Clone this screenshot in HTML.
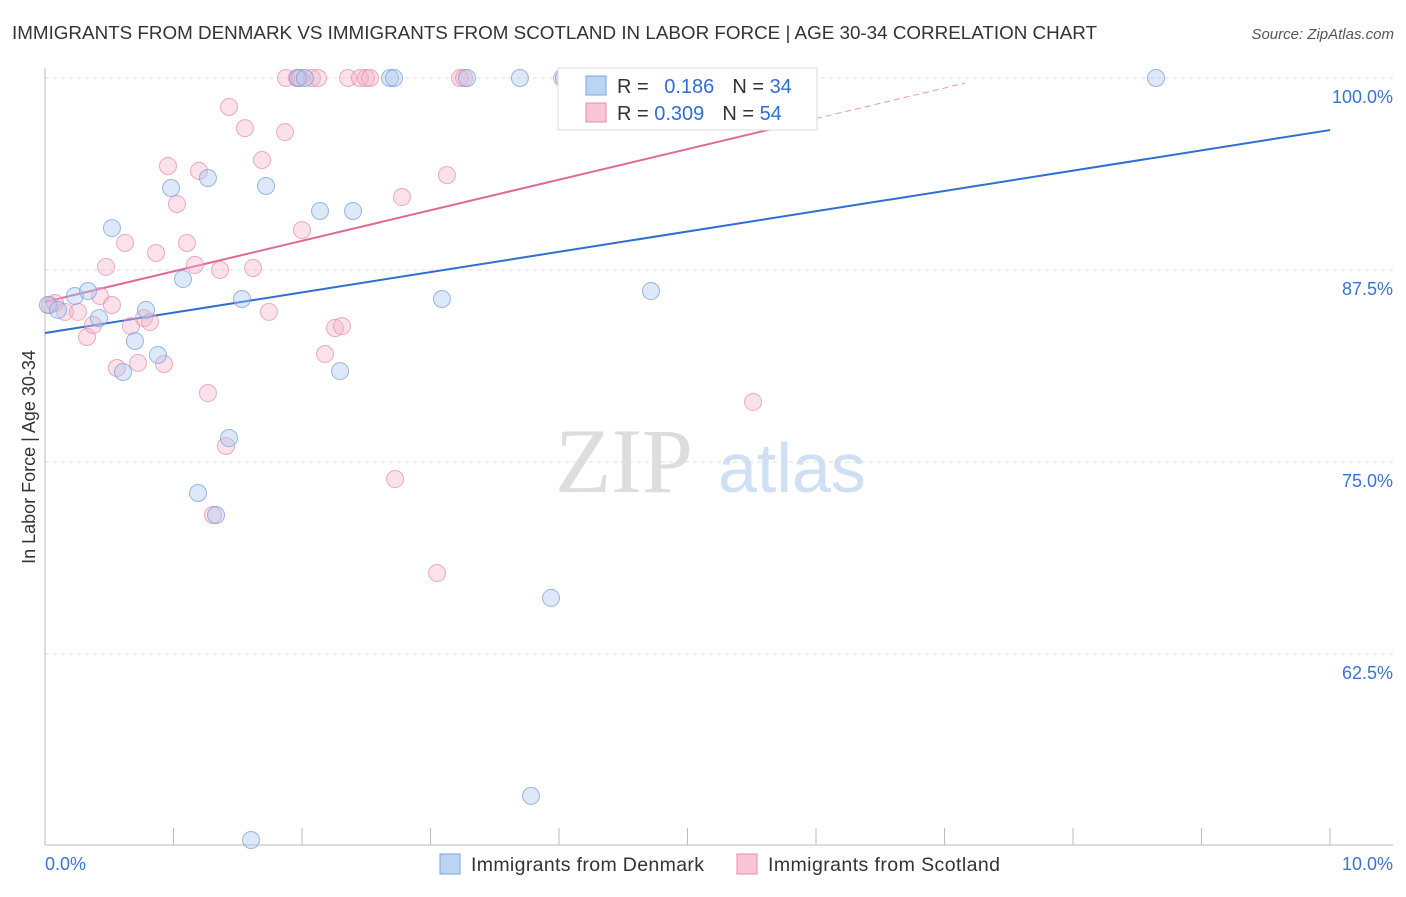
<!DOCTYPE html>
<html><head><meta charset="utf-8"><style>
body{margin:0;background:#fff;font-family:"Liberation Sans",sans-serif}
</style></head><body>
<svg id="c" width="1406" height="892" xmlns="http://www.w3.org/2000/svg">
<text x="12" y="39" font-size="18.5" fill="#333" textLength="1085" lengthAdjust="spacingAndGlyphs">IMMIGRANTS FROM DENMARK VS IMMIGRANTS FROM SCOTLAND IN LABOR FORCE | AGE 30-34 CORRELATION CHART</text>
<text x="1394" y="39" font-size="15" fill="#555" font-style="italic" text-anchor="end">Source: ZipAtlas.com</text>
<text x="35" y="457" font-size="18" fill="#333" text-anchor="middle" transform="rotate(-90 35 457)">In Labor Force | Age 30-34</text>
<text x="555" y="492" font-size="92" fill="#ddd" font-family="Liberation Serif,serif">ZIP</text>
<text x="718" y="492" font-size="70" fill="#cfe0f5">atlas</text>
<g id="grid"></g><g id="axes"></g><g id="lines"></g><g id="pts"></g>
<g>
<rect x="558" y="68" width="259" height="62" fill="#fff" stroke="#ddd"/>
<rect x="586" y="76" width="20" height="19" fill="#bcd4f4" stroke="#7aa5e0"/>
<text x="617" y="93" font-size="20" fill="#333">R = <tspan fill="#2f6fd0" dx="10">0.186</tspan><tspan dx="18" fill="#333">N = </tspan><tspan fill="#2f6fd0">34</tspan></text>
<rect x="586" y="103" width="20" height="19" fill="#f8c6d5" stroke="#e88aa8"/>
<text x="617" y="120" font-size="20" fill="#333">R = <tspan fill="#2f6fd0">0.309</tspan><tspan dx="18" fill="#333">N = </tspan><tspan fill="#2f6fd0">54</tspan></text>
</g>
<g>
<rect x="440" y="854" width="20" height="20" fill="#bcd4f4" stroke="#7aa5e0"/>
<text x="471" y="871" font-size="19.5" fill="#333" textLength="233">Immigrants from Denmark</text>
<rect x="737" y="854" width="20" height="20" fill="#f8c6d5" stroke="#e88aa8"/>
<text x="768" y="871" font-size="19.5" fill="#333" textLength="232">Immigrants from Scotland</text>
</g>
</svg>
<script>
const blueX=[0.023,0.101,0.233,0.335,0.420,0.521,0.607,0.700,0.786,0.879,0.981,1.074,1.191,1.268,1.331,1.432,1.533,1.603,1.720,2.140,2.296,2.397,2.685,2.716,3.089,3.284,3.696,3.782,3.938,4.039,4.716,8.646,1.969,2.023];
const blueY=[85.22,84.90,85.81,86.13,84.37,90.23,80.86,82.88,84.90,81.97,92.84,86.91,72.98,93.49,71.55,76.56,85.61,50.39,92.97,91.34,80.92,91.34,100,100,85.61,100,100,53.26,66.15,100,86.13,100,100,100];
const pinkX=[0.039,0.078,0.156,0.257,0.327,0.374,0.428,0.475,0.521,0.560,0.623,0.669,0.724,0.770,0.817,0.864,0.926,0.957,1.027,1.105,1.167,1.198,1.268,1.307,1.362,1.409,1.432,1.556,1.619,1.689,1.743,1.868,1.875,1.961,2.000,2.078,2.125,2.179,2.257,2.311,2.358,2.451,2.498,2.724,2.778,3.051,3.128,3.230,3.261,4.023,4.840,5.510,1.984,2.529];
const pinkY=[85.22,85.35,84.77,84.77,83.14,83.92,85.81,87.70,85.22,81.12,89.26,83.85,81.45,84.37,84.11,88.61,81.38,94.27,91.80,89.26,87.83,93.95,79.49,71.55,87.5,76.04,98.11,96.74,87.63,94.66,84.77,96.48,100,100,90.10,100,100,82.03,83.72,83.85,100,100,100,73.89,92.25,67.77,93.68,100,100,100,100,78.91,100,100];
const blueTrend=[83.40,96.61];
const pinkTrend=[85.42,1.99];
const yTicks=[100,87.5,75,62.5];
const yTickLabels=["100.0%","87.5%","75.0%","62.5%"];
const xTicks=[0,1,2,3,4,5,6,7,8,9,10];
const xs=v=>45+v*128.5, ys=v=>78+(100-v)*15.36;
const NS="http://www.w3.org/2000/svg";
function mk(p,t,a){const e=document.createElementNS(NS,t);for(const k in a)e.setAttribute(k,a[k]);p.appendChild(e);return e;}
const g=document.getElementById('grid'),ax=document.getElementById('axes'),ln=document.getElementById('lines'),pt=document.getElementById('pts');
yTicks.forEach((v,i)=>{
 const l=mk(g,'line',{x1:45,x2:1393,y1:ys(v),y2:ys(v),stroke:'#ddd','stroke-dasharray':'4,4'});
 
 
 const t=mk(g,'text',{x:1393,y:ys(v)+25,'font-size':18,fill:'#3b73d1','text-anchor':'end'});t.textContent=yTickLabels[i];
 
 
});
mk(ax,'line',{x1:45,x2:45,y1:68,y2:845,stroke:'#bbb'});
mk(ax,'line',{x1:45,x2:1393,y1:845,y2:845,stroke:'#bbb'});
xTicks.forEach(v=>{const l=mk(ax,'line',{x1:xs(v),x2:xs(v),y1:828,y2:845,stroke:'#bbb'});
 
 });
const x0=mk(ax,'text',{x:45,y:870,'font-size':18,fill:'#3b73d1'});x0.textContent='0.0%';


const x1=mk(ax,'text',{x:1393,y:870,'font-size':18,fill:'#3b73d1','text-anchor':'end'});x1.textContent='10.0%';


function dots(X,Y,f,s,n){X.forEach((x,i)=>{const c=mk(pt,'circle',{cx:xs(x),cy:ys(Y[i]),r:8.5,fill:f,'fill-opacity':0.4,stroke:s,'stroke-opacity':0.7,'stroke-width':1});
 
 });}
dots(pinkX,pinkY,'#f5b3c8','#e88aa8','scotland-point');
dots(blueX,blueY,'#a9c6ee','#6f9ddc','denmark-point');
const bl=mk(ln,'line',{x1:xs(0),y1:ys(blueTrend[0]),x2:xs(10),y2:ys(blueTrend[1]),stroke:'#2f6fd0','stroke-width':2});


const pe=6.0,pd=7.16;
const pl=mk(ln,'line',{x1:xs(0),y1:ys(pinkTrend[0]),x2:xs(pe),y2:ys(pinkTrend[0]+pinkTrend[1]*pe),stroke:'#e0689a','stroke-width':2});


const pdl=mk(ln,'line',{x1:xs(pe),y1:ys(pinkTrend[0]+pinkTrend[1]*pe),x2:xs(pd),y2:ys(pinkTrend[0]+pinkTrend[1]*pd),stroke:'#e89ab8','stroke-width':1,'stroke-dasharray':'6,4'});


</script>
</body></html>
